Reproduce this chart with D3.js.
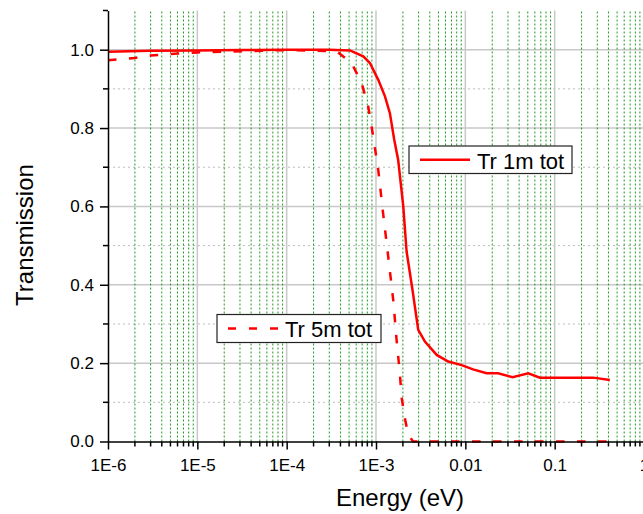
<!DOCTYPE html>
<html>
<head>
<meta charset="utf-8">
<script src="https://cdn.jsdelivr.net/npm/d3@7"></script>
<style>
  body { margin: 0; background: #fff; }
  text { font-family: Arial, "Liberation Sans", sans-serif; fill: #000; }
</style>
</head>
<body>
<div id="chart"></div>
<script>
// Tr 1m tot (solid)
const energy1m = [1e-6, 3e-6, 1e-5, 3e-5, 1e-4, 3e-4, 5.1e-4, 7.2e-4, 8.55e-4, 1.06e-3, 1.26e-3, 1.43e-3, 1.6e-3, 1.77e-3,
  2.02e-3, 2.2e-3, 2.55e-3, 2.97e-3, 3.53e-3, 4.78e-3, 6.44e-3, 9.1e-3, 1.22e-2, 1.73e-2, 2.33e-2, 3.38e-2, 5.06e-2, 6.84e-2, 0.27, 0.415];
const trans1m = [0.995, 0.997, 0.998, 0.999, 1.0, 1.0, 0.998, 0.983, 0.966, 0.923, 0.881, 0.838, 0.77, 0.719,
  0.60, 0.485, 0.39, 0.285, 0.255, 0.221, 0.204, 0.195, 0.184, 0.174, 0.174, 0.164, 0.174, 0.163, 0.163, 0.157];

// Tr 5m tot (dashed)
const energy5m = [1e-6, 2e-6, 3e-6, 6e-6, 1e-5, 3e-5, 1e-4, 3.63e-4, 5.33e-4, 6.9e-4, 8.18e-4, 8.93e-4, 9.73e-4, 1.06e-3,
  1.2e-3, 1.37e-3, 1.56e-3, 1.7e-3, 1.85e-3, 1.93e-3, 2.1e-3, 2.3e-3, 2.6e-3, 5e-3, 1e-2, 0.03, 0.1, 0.415];
const trans5m = [0.973, 0.979, 0.985, 0.990, 0.993, 0.996, 0.999, 0.996, 0.966, 0.915, 0.855, 0.804, 0.749, 0.693,
  0.583, 0.472, 0.361, 0.259, 0.174, 0.114, 0.06, 0.017, 0, 0, 0, 0, 0, 0];

const xTickValues = [1e-6, 1e-5, 1e-4, 1e-3, 1e-2, 1e-1, 1];
const xTickLabels = ['1E-6', '1E-5', '1E-4', '1E-3', '0.01', '0.1', '1'];
const yTickValues = [0, 0.2, 0.4, 0.6, 0.8, 1.0];
const yMinorValues = [0.1, 0.3, 0.5, 0.7, 0.9, 1.1];

const width = 643;
const height = 514;

const svg = d3.select('#chart').append('svg')
  .attr('width', width)
  .attr('height', height);

const x = d3.scaleLog().domain([1e-6, 1]).range([108, 644]);
const y = d3.scaleLinear().domain([0, 1.1]).range([441.5, 10.5]);

// minor x values: 2..9 of every decade
const xMinor = [];
for (let d = -6; d < 0; d++) {
  for (let m = 2; m <= 9; m++) xMinor.push(m * Math.pow(10, d));
}

const grid = svg.append('g');

// horizontal grid
grid.selectAll('.hmin').data(yMinorValues.slice(0, 5)).enter().append('line')
  .attr('x1', x.range()[0]).attr('x2', width)
  .attr('y1', d => y(d)).attr('y2', d => y(d))
  .attr('stroke', '#bdbdbd').attr('stroke-width', 1).attr('stroke-dasharray', '2,3');
grid.selectAll('.hmaj').data(yTickValues.slice(1)).enter().append('line')
  .attr('x1', x.range()[0]).attr('x2', width)
  .attr('y1', d => y(d)).attr('y2', d => y(d))
  .attr('stroke', '#c8c8c8').attr('stroke-width', 1.5);

// vertical grid
grid.selectAll('.vmin').data(xMinor).enter().append('line')
  .attr('x1', d => x(d)).attr('x2', d => x(d))
  .attr('y1', y(0)).attr('y2', y(1.1))
  .attr('stroke', '#1f9a1f').attr('stroke-width', 1).attr('stroke-dasharray', '2,2');
grid.selectAll('.vmaj').data(xTickValues.slice(1)).enter().append('line')
  .attr('x1', d => x(d)).attr('x2', d => x(d))
  .attr('y1', y(0)).attr('y2', y(1.1))
  .attr('stroke', '#c8c8c8').attr('stroke-width', 1.5);

// series
const line = d3.line().x(d => x(d[0])).y(d => y(d[1]));

svg.append('path')
  .datum(d3.zip(energy5m, trans5m))
  .attr('d', line)
  .attr('fill', 'none')
  .attr('stroke', '#ff0000')
  .attr('stroke-width', 2.5)
  .attr('stroke-dasharray', '8.5,12.5');

svg.append('path')
  .datum(d3.zip(energy1m, trans1m))
  .attr('d', line)
  .attr('fill', 'none')
  .attr('stroke', '#ff0000')
  .attr('stroke-width', 2.5);

// x axis
const xAxis = svg.append('g').attr('transform', `translate(0,${y(0)})`)
  .call(d3.axisBottom(x).tickValues(xTickValues).tickFormat((d, i) => xTickLabels[i]).tickSize(8).tickSizeOuter(0));
xAxis.selectAll('text').attr('font-size', 17).attr('dy', 0).attr('y', 29.5)
  .style('font-family', 'Arial, "Liberation Sans", sans-serif');
xAxis.append('g').selectAll('line').data(xMinor).enter().append('line')
  .attr('x1', d => x(d)).attr('x2', d => x(d)).attr('y1', 0).attr('y2', 5)
  .attr('stroke', '#000').attr('stroke-width', 1.5);

// y axis
const yAxis = svg.append('g').attr('transform', `translate(${x.range()[0]},0)`)
  .call(d3.axisLeft(y).tickValues(yTickValues).tickFormat(d3.format('.1f')).tickSize(8).tickSizeOuter(0));
yAxis.selectAll('text').attr('font-size', 17).attr('x', -14)
  .style('font-family', 'Arial, "Liberation Sans", sans-serif');
yAxis.append('g').selectAll('line').data(yMinorValues).enter().append('line')
  .attr('x1', 0).attr('x2', -5).attr('y1', d => y(d)).attr('y2', d => y(d))
  .attr('stroke', '#000').attr('stroke-width', 1.5);

svg.selectAll('.domain, .tick line').attr('stroke', '#000').attr('stroke-width', 1.5);

// axis titles
svg.append('text')
  .attr('x', 400).attr('y', 506)
  .attr('text-anchor', 'middle')
  .attr('font-size', 24)
  .text('Energy (eV)');

svg.append('text')
  .attr('transform', 'translate(33,235) rotate(-90)')
  .attr('text-anchor', 'middle')
  .attr('font-size', 24)
  .text('Transmission');

// legends
function legend(bx, by, bw, bh, label, dash) {
  const g = svg.append('g');
  g.append('rect').attr('x', bx).attr('y', by).attr('width', bw).attr('height', bh)
    .attr('fill', '#fff').attr('stroke', '#222').attr('stroke-width', 1.2);
  g.append('line').attr('x1', bx + 11).attr('x2', bx + 61).attr('y1', by + bh / 2).attr('y2', by + bh / 2)
    .attr('stroke', '#ff0000').attr('stroke-width', 2.5)
    .attr('stroke-dasharray', dash);
  g.append('text').attr('x', bx + 68).attr('y', by + 22.5).attr('font-size', 22).text(label);
}
legend(409, 146, 163, 27.5, 'Tr 1m tot', null);
legend(217, 314.5, 164, 28, 'Tr 5m tot', '8,13');
</script>
</body>
</html>
